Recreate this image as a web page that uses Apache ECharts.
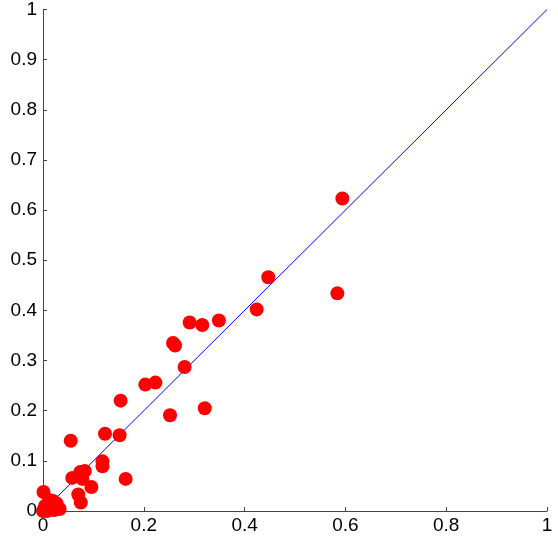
<!DOCTYPE html>
<html>
<head>
<meta charset="utf-8">
<script src="https://cdn.jsdelivr.net/npm/echarts@6/dist/echarts.min.js"></script>
<style>
  html, body { margin: 0; padding: 0; background: #fff; }
  #chart { width: 558px; height: 543px; }
</style>
</head>
<body>
<div id="chart"></div>
<script>
var xVals = [0.001, 0.012, 0.02, 0.027, 0.033, 0.004, 0.008, 0.022, 0.0,
             0.058, 0.074, 0.083, 0.078, 0.096, 0.118, 0.118, 0.070, 0.075,
             0.055, 0.123, 0.152, 0.154, 0.164, 0.203, 0.223, 0.252, 0.258,
             0.262, 0.281, 0.291, 0.316, 0.321, 0.349, 0.424, 0.447, 0.584, 0.594];
var yVals = [0.038, 0.022, 0.02, 0.015, 0.004, 0.01, 0.0, 0.002, 0.0,
             0.066, 0.078, 0.080, 0.064, 0.048, 0.099, 0.089, 0.033, 0.017,
             0.140, 0.154, 0.151, 0.220, 0.064, 0.252, 0.256, 0.191, 0.335,
             0.330, 0.287, 0.376, 0.371, 0.205, 0.380, 0.402, 0.466, 0.434, 0.623];
var diagonal = [[0, 0], [1, 1]];

var points = [];
for (var i = 0; i < xVals.length; i++) {
  points.push([xVals[i], yVals[i]]);
}

var chart = echarts.init(document.getElementById('chart'));
var axisCommon = {
  type: 'value',
  min: 0,
  max: 1,
  splitLine: { show: false },
  axisLine: { show: true, lineStyle: { color: '#444', width: 1 } },
  axisTick: { show: true, inside: true, length: 4, lineStyle: { color: '#444' } },
  axisLabel: {
    color: '#000',
    fontSize: 19,
    fontFamily: 'Liberation Sans, Arial, sans-serif',
    formatter: function (v) { return String(Math.round(v * 10) / 10); }
  }
};
chart.setOption({
  animation: false,
  grid: { left: 43, right: 11, top: 9, bottom: 32 },
  xAxis: Object.assign({}, axisCommon, {
    interval: 0.2,
    axisLabel: Object.assign({}, axisCommon.axisLabel, { margin: 5 })
  }),
  yAxis: Object.assign({}, axisCommon, {
    interval: 0.1,
    axisLabel: Object.assign({}, axisCommon.axisLabel, { margin: 6 })
  }),
  series: [
    {
      type: 'line',
      data: diagonal,
      symbol: 'none',
      lineStyle: { color: '#0000ff', width: 1 },
      z: 1
    },
    {
      type: 'scatter',
      data: points,
      symbolSize: 14,
      itemStyle: { color: '#ff0000', opacity: 1 },
      z: 2
    }
  ]
});
</script>
</body>
</html>
